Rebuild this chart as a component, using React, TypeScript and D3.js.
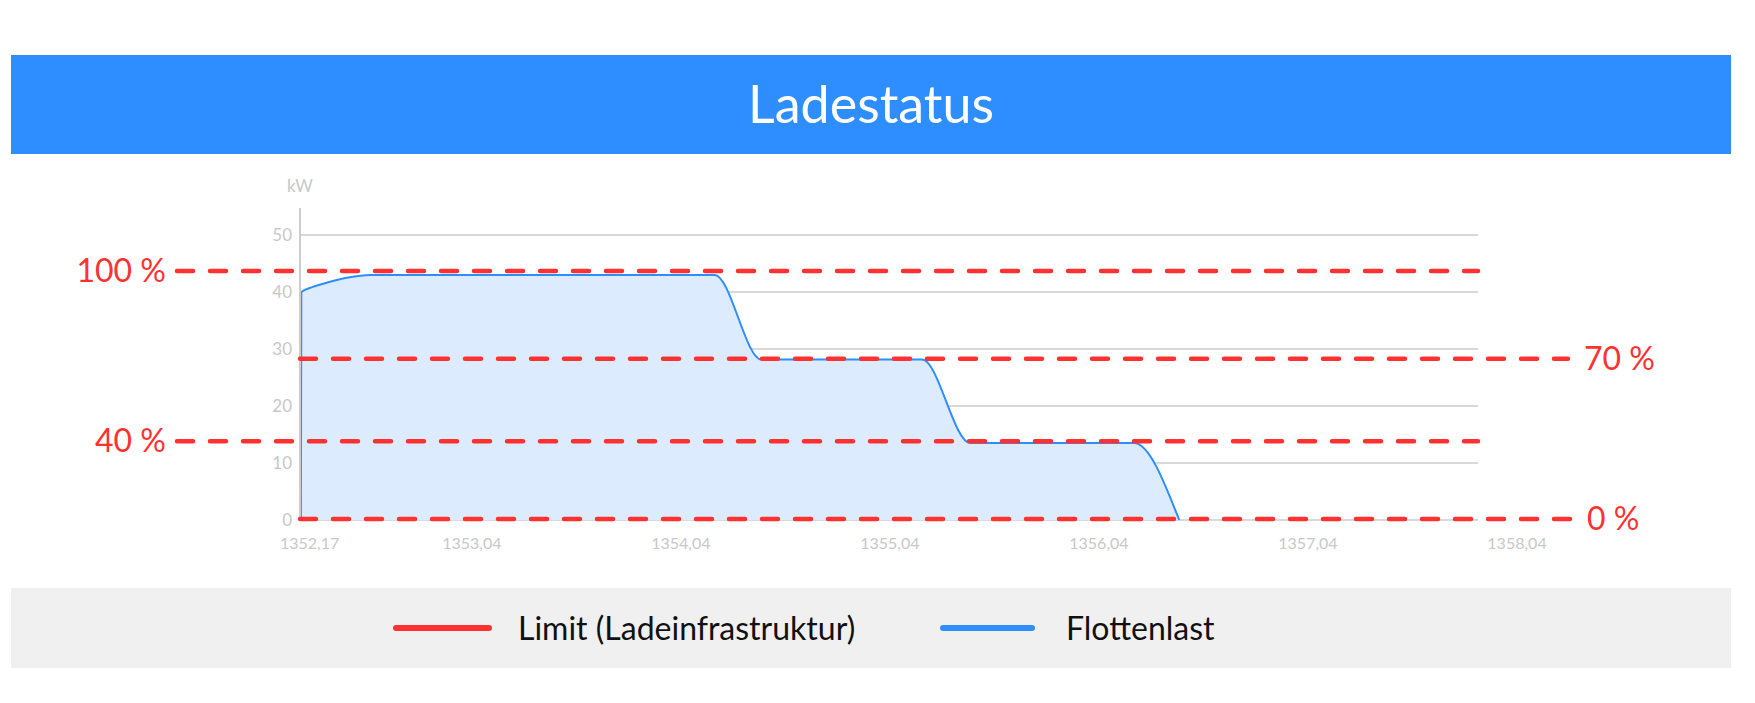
import React from "react";
import * as d3 from "d3";

// ---- data ----
const titleText = "Ladestatus";
const unitLabel = "kW";
const xTickValues = [1352.17, 1353.04, 1354.04, 1355.04, 1356.04, 1357.04, 1358.04];
const xTickLabels = ["1352,17", "1353,04", "1354,04", "1355,04", "1356,04", "1357,04", "1358,04"];
const yTickValues = [0, 10, 20, 30, 40, 50];

const loadX = [1352.222, 1352.224, 1352.28, 1352.357, 1352.448, 1352.553, 1354.202, 1354.425, 1355.194, 1355.424, 1356.208, 1356.424];
const loadY = [0, 40, 40.9, 41.75, 42.55, 43.0, 43.0, 28.15, 28.15, 13.5, 13.5, 0];

const limitValues = [43.7, 28.3, 13.8, 0.17];
const limitLabels = ["100 %", "70 %", "40 %", "0 %"];
const limitLabelSide = ["left", "right", "left", "right"];

const legendNames = ["Limit (Ladeinfrastruktur)", "Flottenlast"];

// ---- style ----
const W = 1755;
const H = 703;
const BLUE = "#2e8eff";
const RED = "#ff3131";
const GRID = "#cccccc";
const TICK = "#c8c8c8";
const FONT = "Lato, 'Open Sans', sans-serif";

export default function App() {
  const plotLeft = 300;
  const plotRight = 1478;
  const x = d3.scaleLinear().domain([1352.17, 1358.04]).range([290, 1517]);
  const y = d3.scaleLinear().domain([0, 50]).range([520, 235]);

  const pts: [number, number][] = loadX.map((v, i) => [v, loadY[i]]);
  const line = d3
    .line<[number, number]>()
    .x((d) => x(d[0]))
    .y((d) => y(d[1]))
    .curve(d3.curveMonotoneX);
  const area = d3
    .area<[number, number]>()
    .x((d) => x(d[0]))
    .y0(y(0))
    .y1((d) => y(d[1]))
    .curve(d3.curveMonotoneX);

  return (
    <svg
      width={W}
      height={H}
      style={{ position: "absolute", left: 0, top: 0, display: "block", fontFamily: FONT }}
    >
      <rect x={0} y={0} width={W} height={H} fill="#ffffff" />
      {/* title bar */}
      <rect x={11} y={55} width={1720} height={99} fill={BLUE} />
      <text x={871} y={123} textAnchor="middle" fill="#ffffff" fontSize={52} fontFamily={FONT}>
        {titleText}
      </text>

      {/* unit */}
      <text x={plotLeft} y={192} textAnchor="middle" fill={TICK} fontSize={17}>
        {unitLabel}
      </text>

      {/* grid lines */}
      {yTickValues.map((v) => (
        <g key={"g" + v}>
          <line x1={plotLeft} x2={plotRight} y1={y(v)} y2={y(v)} stroke={GRID} strokeWidth={1.6} />
          <text x={292} y={y(v) + 6} textAnchor="end" fill={TICK} fontSize={17}>
            {v}
          </text>
        </g>
      ))}

      {/* area + line */}
      <path d={area(pts) || ""} fill="#dcebfd" />
      <path d={line(pts) || ""} fill="none" stroke={BLUE} strokeWidth={2} />

      {/* y axis line */}
      <line x1={plotLeft} x2={plotLeft} y1={208} y2={y(0)} stroke={GRID} strokeWidth={2} />

      {/* x tick labels */}
      {xTickValues.map((v, i) => (
        <text
          key={"x" + i}
          x={i === 0 ? x(v) - 10 : x(v)}
          y={549}
          textAnchor={i === 0 ? "start" : "middle"}
          fill={TICK}
          fontSize={16}
        >
          {xTickLabels[i]}
        </text>
      ))}

      {/* limit lines */}
      {limitValues.map((v, i) => {
        const ly = y(v);
        const left = limitLabelSide[i] === "left";
        const x1 = left ? 177 : plotLeft;
        const x2 = left ? plotRight : i === 1 ? 1568 : 1577;
        return (
          <g key={"l" + i}>
            <line
              x1={x1}
              x2={x2}
              y1={ly}
              y2={ly}
              stroke={RED}
              strokeWidth={4.5}
              strokeDasharray="16 17"
              strokeLinecap="round"
            />
            <text
              x={left ? 166 : i === 1 ? 1584 : 1587}
              y={ly + 11}
              textAnchor={left ? "end" : "start"}
              fill={RED}
              fontSize={32}
            >
              {limitLabels[i]}
            </text>
          </g>
        );
      })}

      {/* legend */}
      <rect x={11} y={588} width={1720} height={80} fill="#f0f0f0" />
      <line x1={396} x2={489} y1={628} y2={628} stroke={RED} strokeWidth={6} strokeLinecap="round" />
      <text x={518} y={640} fill="#111111" fontSize={32}>
        {legendNames[0]}
      </text>
      <line x1={943} x2={1032} y1={628} y2={628} stroke={BLUE} strokeWidth={6} strokeLinecap="round" />
      <text x={1066} y={640} fill="#111111" fontSize={32}>
        {legendNames[1]}
      </text>
    </svg>
  );
}
